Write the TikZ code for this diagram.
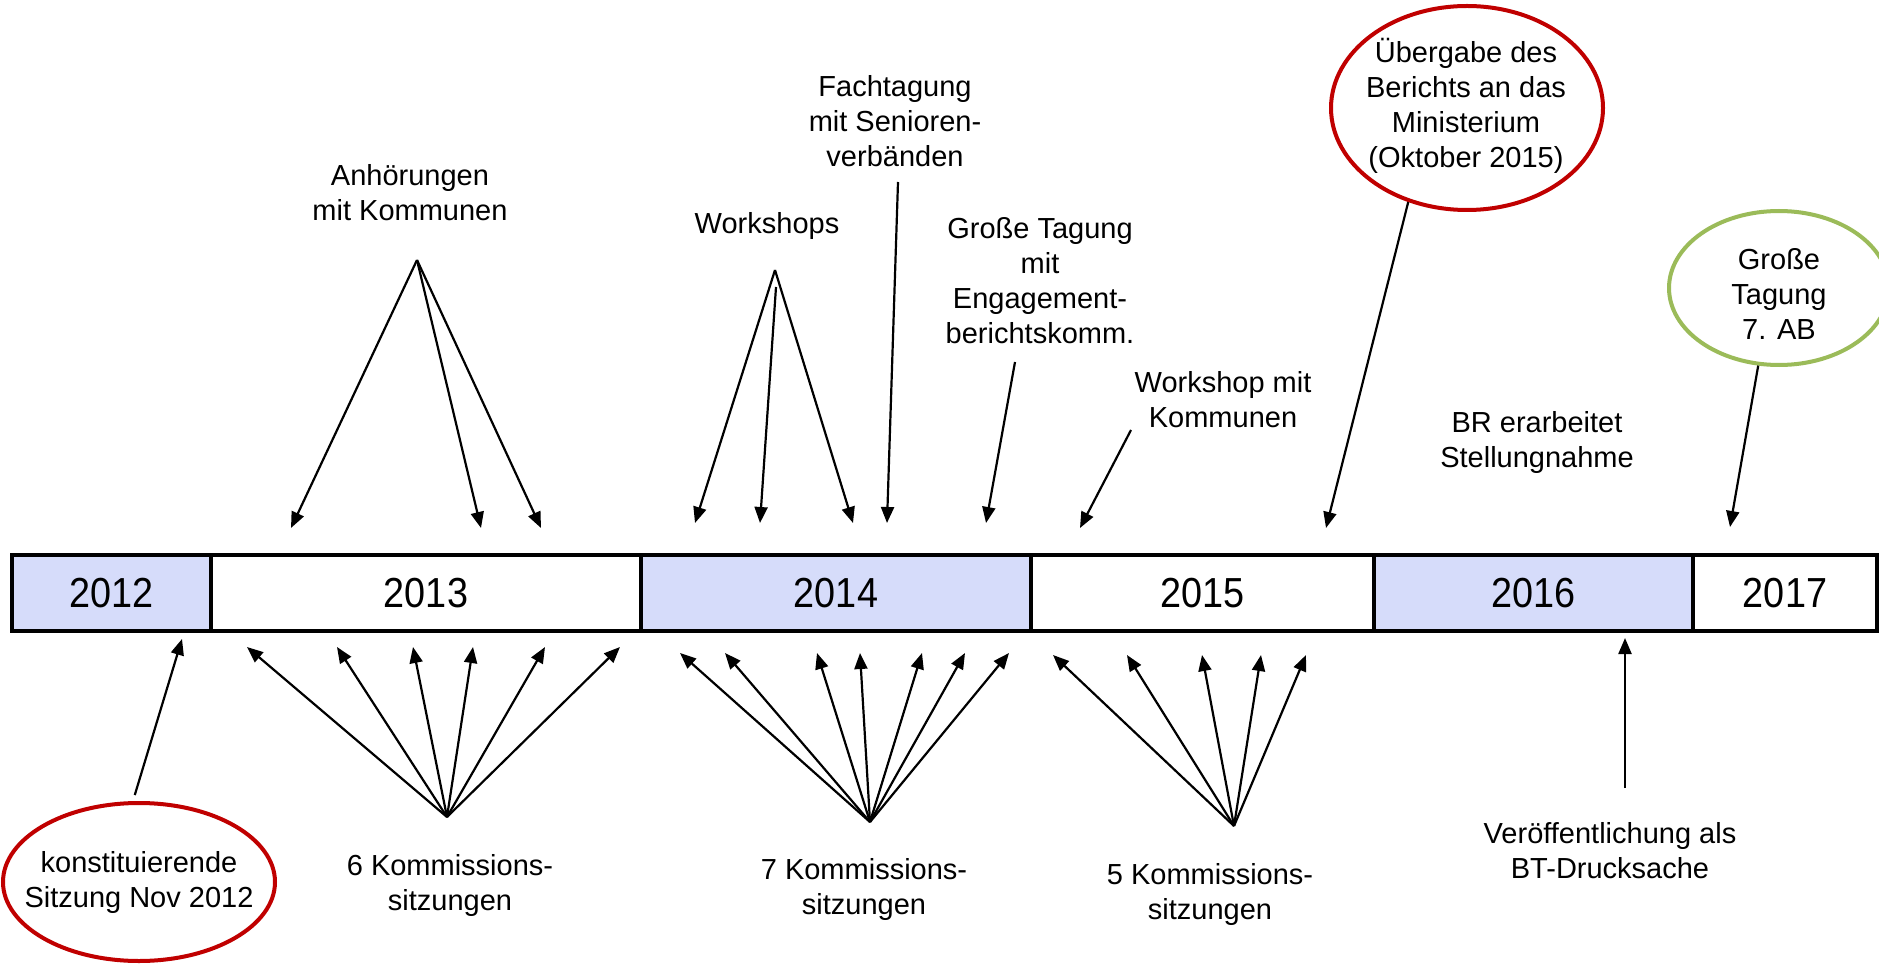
\documentclass[tikz,border=0pt]{standalone}
\usepackage{fontspec}
\setmainfont{Liberation Sans}
\usepackage{graphicx}
\usetikzlibrary{shapes.geometric,arrows.meta}
\definecolor{lav}{RGB}{214,220,250}
\definecolor{dred}{RGB}{192,0,0}
\definecolor{lgreen}{RGB}{155,187,89}
\newcommand\yeartext[1]{\scalebox{0.9}[1]{#1}}
\begin{document}
\begin{tikzpicture}[x=1pt,y=-1pt,
  yearbox/.style={draw=black,line width=3.5pt,minimum height=76pt,inner sep=0pt,font=\fontsize{42}{50}\selectfont},
  lbl/.style={align=center,inner sep=0pt,font=\fontsize{29}{35}\selectfont},
  arr/.style={line width=2.2pt,-{Triangle[length=16pt,width=13pt]}},
  oval/.style={ellipse,line width=4pt,inner sep=0pt,fill=white}]
\useasboundingbox (0,0) rectangle (1879,965);
\clip (0,0) rectangle (1879,965);
\fill[white] (0,0) rectangle (1879,965);

% year bar
\node[yearbox,fill=white,minimum width=430pt] (y2013) at (426,593) {\yeartext{2013}};
\node[yearbox,fill=white,minimum width=343pt] (y2015) at (1202.5,593) {\yeartext{2015}};
\node[yearbox,fill=white,minimum width=184pt] (y2017) at (1785,593) {\yeartext{2017}};
\node[yearbox,fill=lav,minimum width=199pt] (y2012) at (111.5,593) {\yeartext{2012}};
\node[yearbox,fill=lav,minimum width=390pt] (y2014) at (836,593) {\yeartext{2014}};
\node[yearbox,fill=lav,minimum width=319pt] (y2016) at (1533.5,593) {\yeartext{2016}};

% top labels
\node[lbl] (anh) at (410,193) {Anhörungen\\mit Kommunen};
\node[lbl] (ws) at (767,226) {Workshops};
\node[lbl] (fach) at (895,121) {Fachtagung\\mit Senioren-\\verbänden};
\node[lbl] (gross) at (1040,281) {Große Tagung\\mit\\Engagement-\\berichtskomm.};
\node[lbl] (wsk) at (1223,400) {Workshop mit\\Kommunen};
\node[lbl] (br) at (1537,443) {BR erarbeitet\\Stellungnahme};
\node[oval,draw=dred,minimum width=272pt,minimum height=204pt] (ueb) at (1467,108) {};
\node[lbl] (uebT) at (1466,106) {Übergabe des\\Berichts an das\\Ministerium\\(Oktober 2015)};
\node[oval,draw=lgreen,minimum width=220pt,minimum height=154pt] (gt7) at (1779,288) {};
\node[lbl] (gt7T) at (1779,294) {Große\\Tagung\\7. AB};

% bottom labels
\node[oval,draw=dred,minimum width=272pt,minimum height=158pt] (konst) at (139,882) {};
\node[lbl] (konstT) at (139,882) {konstituierende\\Sitzung Nov 2012};
\node[lbl] (k6) at (450,885) {6 Kommissions-\\sitzungen};
\node[lbl] (k7) at (864,889) {7 Kommissions-\\sitzungen};
\node[lbl] (k5) at (1210,894) {5 Kommissions-\\sitzungen};
\node[lbl] (ver) at (1610,851) {Veröffentlichung als\\BT-Drucksache};

% coordinates
\coordinate (a0) at (417,260);
\coordinate (w0) at (775,270);
\coordinate (w0b) at (776,287);
\coordinate (f0) at (898,182);
\coordinate (g0) at (1015,362);
\coordinate (wk0) at (1131,430);
\coordinate (s6) at (447,817);
\coordinate (s7) at (870,822);
\coordinate (s5) at (1234,826);
\coordinate (v0) at (1625,788);

% top arrows
\draw[arr] (a0) -- (291,528);
\draw[arr] (a0) -- (481,528);
\draw[arr] (a0) -- (541,528);
\draw[arr] (w0) -- (695,523);
\draw[arr] (w0b) -- (760,523);
\draw[arr] (w0) -- (853,523);
\draw[arr] (f0) -- (887,523);
\draw[arr] (g0) -- (986,523);
\draw[arr] (wk0) -- (1080,528);
\draw[arr] (ueb.238) -- (1326,528);
\draw[arr] (gt7.255) -- (1730,527);

% bottom arrows
\draw[arr] ([yshift=6pt]konst.93) -- (182,639);
\foreach \t in {247,337,413,473,545,620} \draw[arr] (s6) -- (\t,647);
\foreach \t in {680,725,817,860,922,965,1009} \draw[arr] (s7) -- (\t,653);
\foreach \t in {1053,1127,1202,1261,1306} \draw[arr] (s5) -- (\t,655);
\draw[arr] (v0) -- (1625,638);
\end{tikzpicture}
\end{document}
